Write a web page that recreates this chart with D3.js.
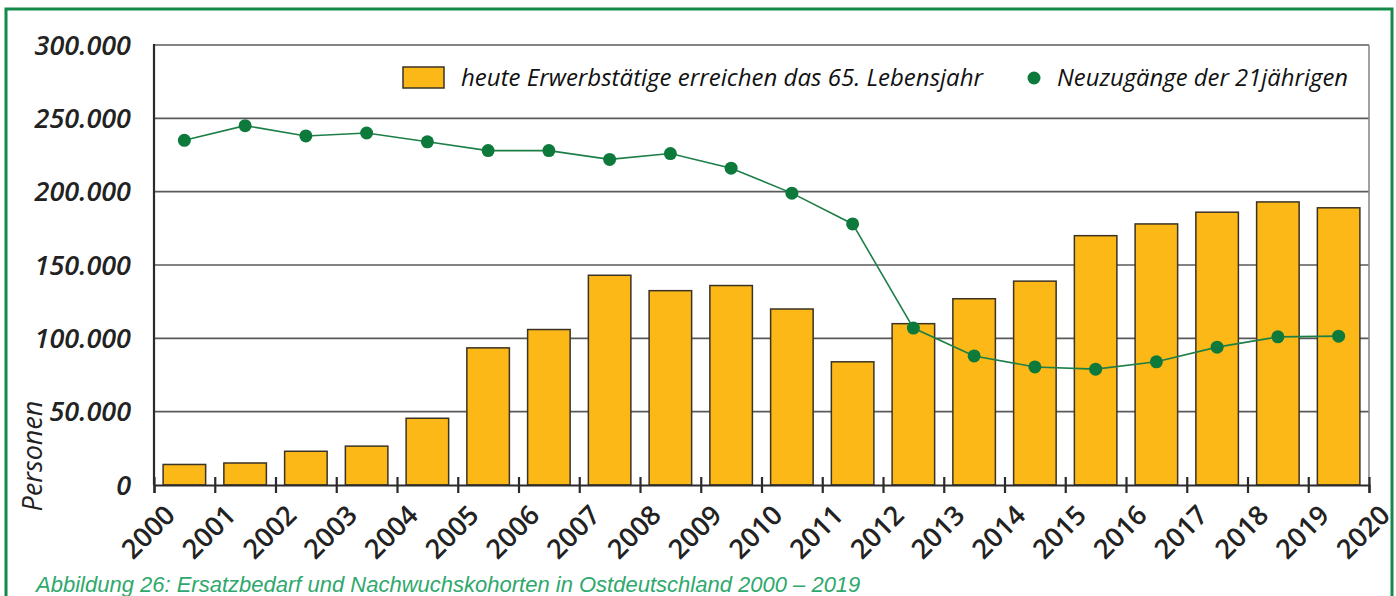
<!DOCTYPE html>
<html>
<head>
<meta charset="utf-8">
<script src="https://cdn.jsdelivr.net/npm/d3@7"></script>
<style>
  body { margin: 0; background: #fff; }
  svg { display: block; }
  .ylab, .xlab { font-family: "Open Sans", sans-serif; fill: #222; }
</style>
</head>
<body>
<svg id="chart" width="1396" height="596"></svg>
<script>
// values
var years = [2000, 2001, 2002, 2003, 2004, 2005, 2006, 2007, 2008, 2009,
             2010, 2011, 2012, 2013, 2014, 2015, 2016, 2017, 2018, 2019];
var retiring = [14000, 15000, 23000, 26500, 45500, 93500, 106000, 143000, 132500, 136000,
                120000, 84000, 110000, 127000, 139000, 170000, 178000, 186000, 193000, 189000];
var newcomers = [235000, 245000, 238000, 240000, 234000, 228000, 228000, 222000, 226000, 216000,
                 199000, 178000, 107000, 88000, 80500, 79000, 84000, 94000, 101000, 101500];
var yTicks = [0, 50000, 100000, 150000, 200000, 250000, 300000];
var xTicks = d3.range(2000, 2021);
var legendLabels = ["heute Erwerbstätige erreichen das 65. Lebensjahr", "Neuzugänge der 21jährigen"];
var caption = "Abbildung 26: Ersatzbedarf und Nachwuchskohorten in Ostdeutschland 2000 – 2019";

var svg = d3.select("#chart");
var margin = {left: 154, right: 1369, top: 45, bottom: 485};

var de = d3.formatLocale({decimal: ",", thousands: ".", grouping: [3], currency: ["", "€"]});
var fmt = de.format(",");

var x = d3.scaleLinear().domain([2000, 2020]).range([margin.left, margin.right]);
var xb = d3.scaleBand().domain(years).range([margin.left, margin.right])
    .paddingInner(0.3).paddingOuter(0.15);
var y = d3.scaleLinear().domain([0, 300000]).range([margin.bottom, margin.top]);

// green frame
svg.append("rect")
    .attr("x", 6).attr("y", 9).attr("width", 1386).attr("height", 620)
    .attr("fill", "none").attr("stroke", "#13894a").attr("stroke-width", 3);

// grid lines
svg.append("g")
  .selectAll("line")
  .data(yTicks.slice(1))
  .enter().append("line")
    .attr("x1", margin.left).attr("x2", margin.right)
    .attr("y1", function(d) { return y(d); })
    .attr("y2", function(d) { return y(d); })
    .attr("stroke", "#5a5a5a").attr("stroke-width", 1.6);

// right border
svg.append("line")
    .attr("x1", margin.right).attr("x2", margin.right)
    .attr("y1", margin.top).attr("y2", margin.bottom)
    .attr("stroke", "#8a8a8a").attr("stroke-width", 1.6);

// bars
svg.append("g")
  .selectAll("rect")
  .data(years)
  .enter().append("rect")
    .attr("x", function(d) { return xb(d); })
    .attr("width", xb.bandwidth())
    .attr("y", function(d, i) { return y(retiring[i]); })
    .attr("height", function(d, i) { return y(0) - y(retiring[i]); })
    .attr("fill", "#fbb817")
    .attr("stroke", "#3a3326").attr("stroke-width", 1.5);

// y axis labels
svg.append("g")
  .selectAll("text")
  .data(yTicks)
  .enter().append("text")
    .attr("class", "ylab")
    .attr("x", 131)
    .attr("y", function(d) { return y(d); })
    .attr("dy", "0.36em")
    .attr("text-anchor", "end")
    .style("font-size", "27px")
    .style("font-style", "italic")
    .style("font-weight", 600)
    .text(function(d) { return fmt(d); });

// left axis line
svg.append("line")
    .attr("x1", margin.left).attr("x2", margin.left)
    .attr("y1", margin.top - 1).attr("y2", margin.bottom)
    .attr("stroke", "#2a2a2a").attr("stroke-width", 2.2);

// x axis
var xAxis = svg.append("g")
    .attr("transform", "translate(0," + margin.bottom + ")")
    .call(d3.axisBottom(x).tickValues(xTicks).tickSize(8).tickFormat(""));
xAxis.select(".domain").attr("stroke", "#2a2a2a").attr("stroke-width", 2.2);
xAxis.selectAll(".tick line")
    .attr("y1", -8).attr("y2", 8)
    .attr("stroke", "#2a2a2a").attr("stroke-width", 2.2);

svg.append("g")
  .selectAll("text")
  .data(xTicks)
  .enter().append("text")
    .attr("class", "xlab")
    .attr("transform", function(d) { return "translate(" + (x(d) + 9) + "," + 503 + ") rotate(-45)"; })
    .attr("text-anchor", "end")
    .attr("dy", "0.72em")
    .style("font-size", "27px")
    .style("font-weight", 600)
    .text(function(d) { return d; });

// y axis title
svg.append("text")
    .attr("transform", "translate(42,456) rotate(-90)")
    .attr("text-anchor", "middle")
    .style("font-family", "'Open Sans', sans-serif")
    .style("font-size", "27px")
    .style("font-style", "italic")
    .style("fill", "#222")
    .text("Personen");

// line
var line = d3.line()
    .x(function(d, i) { return xb(years[i]) + xb.bandwidth() / 2; })
    .y(function(d) { return y(d); });

svg.append("path")
    .datum(newcomers)
    .attr("d", line)
    .attr("fill", "none")
    .attr("stroke", "#1d7f47").attr("stroke-width", 1.6);

svg.append("g")
  .selectAll("circle")
  .data(newcomers)
  .enter().append("circle")
    .attr("cx", function(d, i) { return xb(years[i]) + xb.bandwidth() / 2; })
    .attr("cy", function(d) { return y(d); })
    .attr("r", 6.5)
    .attr("fill", "#0d7a3c");

// legend
var legend = svg.append("g");
legend.append("rect")
    .attr("x", 403).attr("y", 67).attr("width", 41).attr("height", 21)
    .attr("fill", "#fbb817").attr("stroke", "#3a3326").attr("stroke-width", 1.5);
legend.append("text")
    .attr("x", 461).attr("y", 78).attr("dy", "0.35em")
    .attr("textLength", 522).attr("lengthAdjust", "spacingAndGlyphs")
    .style("font-family", "'Open Sans', sans-serif")
    .style("font-size", "23px").style("font-style", "italic").style("fill", "#111")
    .text(legendLabels[0]);
legend.append("circle")
    .attr("cx", 1034).attr("cy", 78).attr("r", 6.5).attr("fill", "#0d7a3c");
legend.append("text")
    .attr("x", 1057).attr("y", 78).attr("dy", "0.35em")
    .attr("textLength", 291).attr("lengthAdjust", "spacingAndGlyphs")
    .style("font-family", "'Open Sans', sans-serif")
    .style("font-size", "23px").style("font-style", "italic").style("fill", "#111")
    .text(legendLabels[1]);

// caption (sits at the bottom edge)
svg.append("text")
    .attr("x", 36).attr("y", 592)
    .style("font-family", "'Liberation Sans', Arial, sans-serif")
    .style("font-size", "22px").style("font-style", "italic").style("fill", "#2ea86c")
    .text(caption);
</script>
</body>
</html>
